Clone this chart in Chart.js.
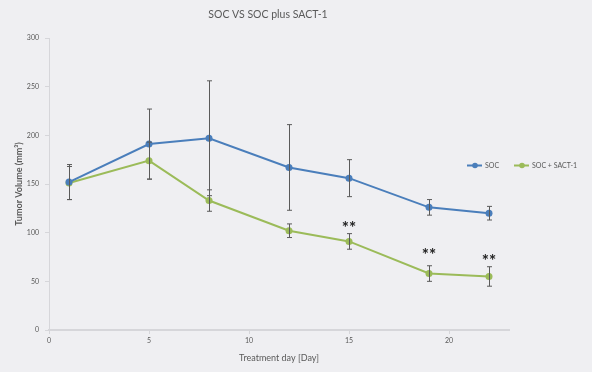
<!DOCTYPE html>
<html>
<head>
<meta charset="utf-8">
<script src="https://cdn.jsdelivr.net/npm/chart.js@4/dist/chart.umd.min.js"></script>
<style>
  html, body { margin: 0; padding: 0; background: #efeff2; }
  #wrap { width: 592px; height: 372px; }
</style>
</head>
<body>
<div id="wrap"><canvas id="grafica_tumor" width="592" height="372"></canvas></div>
<script>
var dias = [1, 5, 8, 12, 15, 19, 22];
var soc = [152, 191, 197, 167, 156, 126, 120];
var socErr = [18, 36, 59, 44, 19, 8, 7];
var sact = [151, 174, 133, 102, 91, 58, 55];
var sactErr = [17, 19, 11, 7, 8, 8, 10];
var xTicks = [0, 5, 10, 15, 20];
var yTicks = [0, 50, 100, 150, 200, 250, 300];
// significance marks over SOC + SACT-1
var estrellasDia = [15, 19, 22];
var estrellasValor = [108, 81, 74];

var gris = "#595959";
var fuente = "Lato, 'Open Sans', sans-serif";

function puntos(valores) {
  var out = [];
  for (var i = 0; i < dias.length; i++) {
    out.push({ x: dias[i], y: valores[i] });
  }
  return out;
}

// error bars + stars + legend + title
var extras = {
  id: "extras",
  afterDatasetsDraw: function (chart) {
    var ctx = chart.ctx;
    var xs = chart.scales.x;
    var ys = chart.scales.y;
    var series = [[soc, socErr], [sact, sactErr]];
    ctx.save();
    ctx.strokeStyle = "#5a5a5a";
    ctx.lineWidth = 1;
    for (var s = 0; s < series.length; s++) {
      for (var i = 0; i < dias.length; i++) {
        var px = Math.round(xs.getPixelForValue(dias[i])) + 0.5;
        var top = ys.getPixelForValue(series[s][0][i] + series[s][1][i]);
        var bot = ys.getPixelForValue(series[s][0][i] - series[s][1][i]);
        ctx.beginPath();
        ctx.moveTo(px, top);
        ctx.lineTo(px, bot);
        ctx.moveTo(px - 2.5, top);
        ctx.lineTo(px + 2.5, top);
        ctx.moveTo(px - 2.5, bot);
        ctx.lineTo(px + 2.5, bot);
        ctx.stroke();
      }
    }
    ctx.fillStyle = "#222";
    ctx.font = "bold 17px " + fuente;
    ctx.textAlign = "center";
    ctx.textBaseline = "middle";
    for (var j = 0; j < estrellasDia.length; j++) {
      ctx.fillText("**", xs.getPixelForValue(estrellasDia[j]), ys.getPixelForValue(estrellasValor[j]) + 4);
    }
    // title
    ctx.fillStyle = gris;
    ctx.font = "10.5px " + fuente;
    ctx.fillText("SOC VS SOC plus SACT-1", 268, 15);
    // legend
    var items = [
      { label: "SOC", color: "#4a7ebb", x: 467 },
      { label: "SOC + SACT-1", color: "#9bbb59", x: 514 }
    ];
    var ly = 165.5;
    ctx.font = "7px " + fuente;
    ctx.textAlign = "left";
    for (var k = 0; k < items.length; k++) {
      var it = items[k];
      ctx.strokeStyle = it.color;
      ctx.lineWidth = 2;
      ctx.beginPath();
      ctx.moveTo(it.x, ly);
      ctx.lineTo(it.x + 15, ly);
      ctx.stroke();
      ctx.fillStyle = it.color;
      ctx.beginPath();
      ctx.arc(it.x + 8, ly, 2.8, 0, Math.PI * 2);
      ctx.fill();
      ctx.fillStyle = gris;
      ctx.fillText(it.label, it.x + 18, ly);
    }
    ctx.restore();
  }
};

var ctx = document.getElementById("grafica_tumor").getContext("2d");
var myChart = new Chart(ctx, {
  type: "line",
  data: {
    datasets: [
      {
        label: "SOC",
        data: puntos(soc),
        borderColor: "#4a7ebb",
        backgroundColor: "#4a7ebb",
        borderWidth: 2,
        pointRadius: 3.5,
        pointBorderWidth: 0,
        tension: 0,
      },
      {
        label: "SOC + SACT-1",
        data: puntos(sact),
        borderColor: "#9bbb59",
        backgroundColor: "#9bbb59",
        borderWidth: 2,
        pointRadius: 3.5,
        pointBorderWidth: 0,
        tension: 0,
      },
    ],
  },
  options: {
    responsive: false,
    animation: false,
    layout: { padding: { left: 0, right: 83, top: 38, bottom: 0 } },
    plugins: {
      legend: { display: false },
      tooltip: { enabled: false },
      title: { display: false },
    },
    scales: {
      x: {
        type: "linear",
        min: 0,
        max: 23,
        afterBuildTicks: function (scale) {
          scale.ticks = xTicks.map(function (v) { return { value: v }; });
        },
        afterFit: function (scale) { scale.height = 42; },
        grid: { drawOnChartArea: false, drawTicks: true, tickLength: 4, color: "#d6d6da" },
        border: { color: "#d6d6da", width: 2 },
        ticks: { color: gris, font: { family: fuente, size: 7 }, padding: 3 },
        title: {
          display: true,
          text: "Treatment day [Day]",
          color: gris,
          font: { family: fuente, size: 9 },
          padding: { top: 4, bottom: 9 },
        },
      },
      y: {
        min: 0,
        max: 300,
        afterBuildTicks: function (scale) {
          scale.ticks = yTicks.map(function (v) { return { value: v }; });
        },
        afterFit: function (scale) { scale.width = 49; },
        grid: { drawOnChartArea: false, drawTicks: true, tickLength: 4, color: "#d6d6da" },
        border: { color: "#d6d6da", width: 1 },
        ticks: { color: gris, font: { family: fuente, size: 7 }, padding: 6 },
        title: {
          display: true,
          text: "Tumor Volume (mm³)",
          color: gris,
          font: { family: fuente, size: 9, weight: "bold" },
          padding: { top: 14, bottom: 2 },
        },
      },
    },
  },
  plugins: [extras],
});
</script>
</body>
</html>
